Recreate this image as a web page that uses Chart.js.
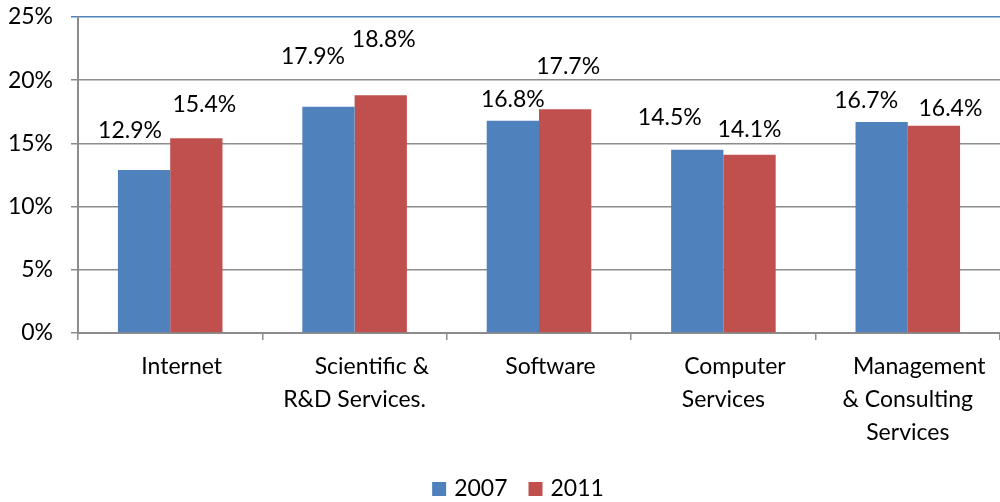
<!DOCTYPE html>
<html>
<head>
<meta charset="utf-8">
<script src="https://cdn.jsdelivr.net/npm/chart.js@4.4.1/dist/chart.umd.min.js"></script>
<style>
  html, body { margin: 0; padding: 0; background: #ffffff; }
  #wrap { width: 1000px; height: 502px; }
</style>
</head>
<body>
<div id="wrap"><canvas id="c" width="1000" height="502"></canvas></div>
<script>
// ---- data ----
const categories = [
  ["\u2002\u2002Internet"],
  ["\u2002\u2002\u2002Scientific &", "R&D Services."],
  ["\u2002\u2002Software"],
  ["\u2002\u2002Computer", "Services"],
  ["\u2002\u2002Management", "& Consulting", "Services"]
];
const seriesNames = ["2007", "2011"];
const values2007 = [12.9, 17.9, 16.8, 14.5, 16.7];
const values2011 = [15.4, 18.8, 17.7, 14.1, 16.4];
const yTicks = [0, 5, 10, 15, 20, 25];

// ---- styles ----
const BLUE = '#4f81bd';
const RED = '#c0504d';
const GRID = '#8c8c8c';
const FONT = 'Lato';

// manual label nudges (relative to top-centre of each bar), as in the source chart
const labelNudges = [
  [[-14, -39], [-15.5, -50], [0, -21.5], [-27.5, -32], [-15.5, -21]],
  [[8, -34], [3, -55.5], [3, -43], [0, -25.5], [16.5, -17.5]]
];

const dataLabelPlugin = {
  id: 'dataLabels',
  afterDatasetsDraw(chart) {
    const ctx = chart.ctx;
    ctx.save();
    ctx.font = '23px ' + FONT;
    ctx.fillStyle = '#000';
    ctx.textAlign = 'center';
    ctx.textBaseline = 'middle';
    chart.data.datasets.forEach((ds, di) => {
      const meta = chart.getDatasetMeta(di);
      meta.data.forEach((el, i) => {
        const n = labelNudges[di][i];
        ctx.fillText(ds.data[i].toFixed(1) + '%', el.x + n[0], el.y + n[1]);
      });
    });
    ctx.restore();
  }
};

const legendPlugin = {
  id: 'customLegend',
  afterDraw(chart) {
    const ctx = chart.ctx;
    ctx.save();
    ctx.font = '23px ' + FONT;
    ctx.textBaseline = 'middle';
    ctx.textAlign = 'left';
    const box = 14, gap = 8, itemGap = 21, cx = 518, cy = 489;
    const items = chart.data.datasets.map(ds => ({
      text: ds.label, color: ds.backgroundColor, w: box + gap + ctx.measureText(ds.label).width
    }));
    const total = items.reduce((s, it) => s + it.w, 0) + itemGap * (items.length - 1);
    let x = cx - total / 2;
    items.forEach(it => {
      ctx.fillStyle = it.color;
      ctx.fillRect(x, cy - box / 2, box, box);
      ctx.fillStyle = '#000';
      ctx.fillText(it.text, x + box + gap, cy);
      x += it.w + itemGap;
    });
    ctx.restore();
  }
};

new Chart(document.getElementById('c'), {
  type: 'bar',
  data: {
    labels: categories,
    datasets: [
      { label: seriesNames[0], data: values2007, backgroundColor: BLUE,
        categoryPercentage: 0.567, barPercentage: 1.0 },
      { label: seriesNames[1], data: values2011, backgroundColor: RED,
        categoryPercentage: 0.567, barPercentage: 1.0 }
    ]
  },
  options: {
    responsive: false,
    animation: false,
    layout: { padding: { top: 17, right: -7, left: 0, bottom: 0 } },
    plugins: {
      legend: { display: false },
      tooltip: { enabled: false }
    },
    scales: {
      y: {
        min: yTicks[0],
        max: yTicks[yTicks.length - 1],
        afterBuildTicks(scale) { scale.ticks = yTicks.map(v => ({ value: v })); },
        afterFit(scale) { scale.width = 78; scale.paddingTop = 0; scale.paddingBottom = 0; },
        ticks: {
          font: { family: FONT, size: 23 },
          color: '#000',
          padding: 18,
          callback: v => v + '%'
        },
        grid: {
          color: ctx => (ctx.tick && ctx.tick.value === 25) ? BLUE : GRID,
          lineWidth: 1.5,
          tickLength: 7
        },
        border: { color: GRID, width: 2 }
      },
      x: {
        afterFit(scale) { scale.height = 169; },
        ticks: {
          font: { family: FONT, size: 23, lineHeight: 1.43 },
          color: '#000',
          padding: 10,
          maxRotation: 0,
          autoSkip: false
        },
        grid: {
          drawOnChartArea: false,
          drawTicks: true,
          tickLength: 7,
          color: GRID,
          lineWidth: 1.5
        },
        border: { color: GRID, width: 2 }
      }
    }
  },
  plugins: [dataLabelPlugin, legendPlugin]
});
</script>
</body>
</html>
